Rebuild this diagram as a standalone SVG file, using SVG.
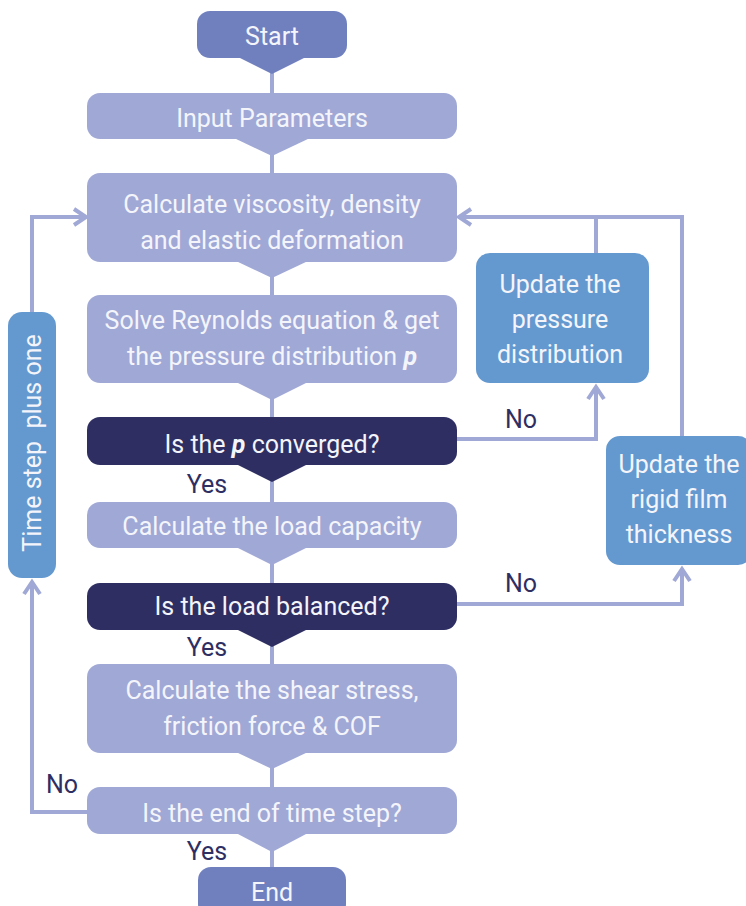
<svg xmlns="http://www.w3.org/2000/svg" width="746" height="906" viewBox="0 0 746 906">
<defs>
<style>
.t{font-family:Roboto,"Liberation Sans",sans-serif;font-size:25px;fill:#f4f5fb;text-anchor:middle}
.l{font-family:Roboto,"Liberation Sans",sans-serif;font-size:25px;fill:#2e2e62;text-anchor:middle}
.lt{fill:#a0a8d6}
.se{fill:#7080bf}
.dk{fill:#2e2e62}
.bl{fill:#6499d0}
.c{fill:none;stroke:#a0a8d6;stroke-width:4}
</style>
<marker id="arr" viewBox="0 0 20 20" refX="16" refY="10" markerWidth="20" markerHeight="20" markerUnits="userSpaceOnUse" orient="auto">
<path d="M4,2 L16,10 L4,18" fill="none" stroke="#a0a8d6" stroke-width="4"/>
</marker>
</defs>
<g id="connectors">
<line class="c" x1="272" y1="70" x2="272" y2="95"/>
<line class="c" x1="272" y1="150" x2="272" y2="175"/>
<line class="c" x1="272" y1="272" x2="272" y2="297"/>
<line class="c" x1="272" y1="395" x2="272" y2="419"/>
<line class="c" x1="272" y1="476" x2="272" y2="504"/>
<line class="c" x1="272" y1="560" x2="272" y2="585"/>
<line class="c" x1="272" y1="642" x2="272" y2="666"/>
<line class="c" x1="272" y1="764" x2="272" y2="789"/>
<line class="c" x1="272" y1="846" x2="272" y2="869"/>
<polyline class="c" points="88,812 32,812 32,582" marker-end="url(#arr)"/>
<polyline class="c" points="32,312 32,217 86,217" marker-end="url(#arr)"/>
<polyline class="c" points="456,439 596,439 596,387" marker-end="url(#arr)"/>
<polyline class="c" points="456,604 682,604 682,569" marker-end="url(#arr)"/>
<polyline class="c" points="596,253 596,217 459,217" marker-end="url(#arr)"/>
<polyline class="c" points="682,436 682,217 596,217"/>
</g>
<g id="start">
<rect class="se" x="197" y="11" width="150" height="47" rx="13"/>
<polygon class="se" points="238,57 306,57 272,74"/>
<text class="t" x="272" y="45">Start</text>
</g>
<g id="input">
<rect class="lt" x="87" y="93" width="370" height="46" rx="13"/>
<polygon class="lt" points="234,138 310,138 272,156"/>
<text class="t" x="272" y="127">Input Parameters</text>
</g>
<g id="calc-visc">
<rect class="lt" x="87" y="173" width="370" height="89" rx="13"/>
<polygon class="lt" points="236,261 308,261 272,278"/>
<text class="t" x="272" y="213">Calculate viscosity, density</text>
<text class="t" x="272" y="249">and elastic deformation</text>
</g>
<g id="solve">
<rect class="lt" x="87" y="295" width="370" height="88" rx="13"/>
<polygon class="lt" points="236,382 308,382 272,400"/>
<text class="t" x="272" y="329">Solve Reynolds equation &amp; get</text>
<text class="t" x="272" y="365">the pressure distribution <tspan font-weight="bold" font-style="italic">p</tspan></text>
</g>
<g id="converged">
<rect class="dk" x="87" y="417" width="370" height="48" rx="13"/>
<polygon class="dk" points="236,464 308,464 272,482"/>
<text class="t" x="272" y="453">Is the <tspan font-weight="bold" font-style="italic">p</tspan> converged?</text>
</g>
<text class="l" x="207" y="493">Yes</text>
<g id="load-capacity">
<rect class="lt" x="87" y="502" width="370" height="46" rx="13"/>
<polygon class="lt" points="236,547 308,547 272,565"/>
<text class="t" x="272" y="535">Calculate the load capacity</text>
</g>
<g id="balanced">
<rect class="dk" x="87" y="583" width="370" height="47" rx="13"/>
<polygon class="dk" points="236,629 308,629 272,647"/>
<text class="t" x="272" y="615">Is the load balanced?</text>
</g>
<text class="l" x="207" y="656">Yes</text>
<g id="shear">
<rect class="lt" x="87" y="664" width="370" height="89" rx="13"/>
<polygon class="lt" points="236,752 308,752 272,769"/>
<text class="t" x="272" y="699">Calculate the shear stress,</text>
<text class="t" x="272" y="735">friction force &amp; COF</text>
</g>
<text class="l" x="62" y="793">No</text>
<g id="end-time">
<rect class="lt" x="87" y="787" width="370" height="47" rx="13"/>
<polygon class="lt" points="236,833 308,833 272,852"/>
<text class="t" x="272" y="822">Is the end of time step?</text>
</g>
<text class="l" x="207" y="860">Yes</text>
<g id="end">
<rect class="se" x="198" y="867" width="148" height="50" rx="13"/>
<text class="t" x="272" y="901">End</text>
</g>
<g id="update-pressure">
<rect class="bl" x="476" y="253" width="173" height="130" rx="14"/>
<text class="t" x="560" y="293">Update the</text>
<text class="t" x="560" y="328">pressure</text>
<text class="t" x="560" y="363">distribution</text>
</g>
<text class="l" x="521" y="428">No</text>
<g id="update-rigid">
<rect class="bl" x="606" y="436" width="146" height="129" rx="14"/>
<text class="t" x="679" y="473">Update the</text>
<text class="t" x="679" y="508">rigid film</text>
<text class="t" x="679" y="543">thickness</text>
</g>
<text class="l" x="521" y="592">No</text>
<g id="time-step">
<rect class="bl" x="8" y="312" width="48" height="266" rx="14"/>
<text class="t" transform="translate(41,443) rotate(-90)" x="0" y="0" style="white-space:pre">Time step  plus one</text>
</g>
</svg>
